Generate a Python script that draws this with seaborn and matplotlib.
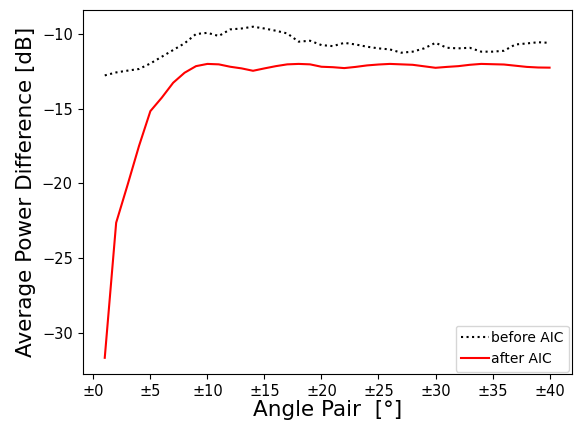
import numpy as np
import pandas as pd
import seaborn as sns
import matplotlib
matplotlib.use("Agg")
import matplotlib.pyplot as plt

# angle pair index 1..40
angle = list(range(1, 41))

before_aic = [-12.77, -12.57, -12.45, -12.34, -11.97, -11.52, -11.07, -10.62, -10.00, -9.92,
              -10.13, -9.69, -9.63, -9.51, -9.63, -9.78, -9.96, -10.51, -10.45, -10.74,
              -10.81, -10.59, -10.70, -10.85, -10.96, -11.03, -11.25, -11.18, -10.96, -10.59,
              -10.92, -10.96, -10.92, -11.18, -11.18, -11.12, -10.70, -10.63, -10.55, -10.59]

after_aic = [-31.67, -22.63, -20.10, -17.50, -15.16, -14.26, -13.26, -12.59, -12.15, -12.00,
             -12.03, -12.19, -12.30, -12.46, -12.30, -12.15, -12.03, -12.00, -12.03, -12.19,
             -12.22, -12.28, -12.20, -12.10, -12.04, -12.00, -12.03, -12.06, -12.16, -12.26,
             -12.20, -12.15, -12.06, -12.00, -12.02, -12.04, -12.12, -12.20, -12.24, -12.25]

xticks = [0, 5, 10, 15, 20, 25, 30, 35, 40]
xticklabels = ["±" + str(t) for t in xticks]

fig = plt.figure(figsize=(5.77, 4.23), dpi=100)
ax = fig.add_axes([0.143, 0.115, 0.848, 0.861])

sns.lineplot(x=angle, y=before_aic, ax=ax, color="black", linestyle=":", linewidth=1.5, label="before AIC")
sns.lineplot(x=angle, y=after_aic, ax=ax, color="red", linewidth=1.5, label="after AIC")

ax.set_xticks(xticks)
ax.set_xticklabels(xticklabels)
ax.set_yticks([-10, -15, -20, -25, -30])
ax.tick_params(labelsize=10.5)

ax.set_xlabel("Angle Pair  [°]", fontsize=15.5, labelpad=1)
ax.set_ylabel("Average Power Difference [dB]", fontsize=15.5)
ax.legend(loc="lower right", fontsize=10, handletextpad=0.15, borderaxespad=0.2)

fig.savefig("out.png", dpi=100)
